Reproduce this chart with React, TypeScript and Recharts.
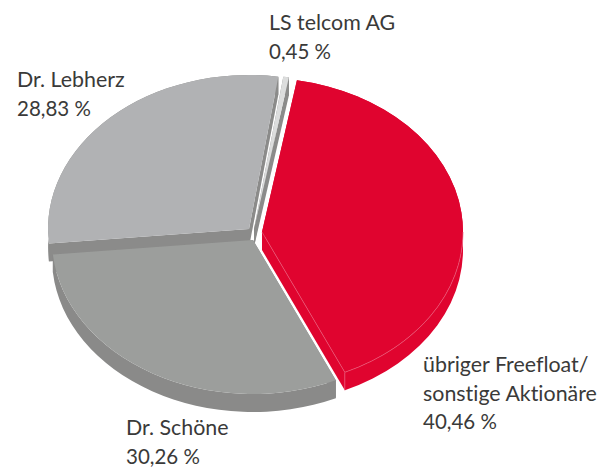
import { PieChart, Pie, Cell } from "recharts";

const names = ["Dr. Lebherz", "LS telcom AG", "übriger Freefloat/sonstige Aktionäre", "Dr. Schöne"];
const shares = [28.83, 0.45, 40.46, 30.26];
const shareLabels = ["28,83 %", "0,45 %", "40,46 %", "30,26 %"];
const labelLines = [["Dr. Lebherz"], ["LS telcom AG"], ["übriger Freefloat/", "sonstige Aktionäre"], ["Dr. Schöne"]];

const topColors = ["#b1b2b4", "#dcdddd", "#e0042f", "#9c9e9c"];
const sideColors = ["#8b8b8a", "#8b8b8a", "#e0042f", "#8a8a89"];

// each slice is pulled away from the middle by its own offset
const offsetX = [-13, -8, 0, -9];
const offsetY = [-3, -3, 0, 8];
const labelX = [17, 269, 423, 126];
const labelY = [87, 30, 372, 435];

const CX = 262;
const CY = 232;
const RX = 201;
const SQUASH = 154 / 201;
const DEPTH = 18;

const data = names.map((name, i) => ({ name, value: shares[i] }));

function SliceShape(props: any) {
  const { startAngle, endAngle, index } = props;
  const cx = props.cx + offsetX[index];
  const cy = props.cy + offsetY[index];
  const ry = RX * SQUASH;
  const pt = (deg: number, dy = 0) => {
    const a = (deg * Math.PI) / 180;
    return `${cx + RX * Math.cos(a)} ${cy + dy - ry * Math.sin(a)}`;
  };
  const large = Math.abs(endAngle - startAngle) > 180 ? 1 : 0;
  const top = `M${cx} ${cy}L${pt(startAngle)}A${RX} ${ry} 0 ${large} 1 ${pt(endAngle)}Z`;
  const rim = `M${pt(startAngle)}A${RX} ${ry} 0 ${large} 1 ${pt(endAngle)}L${pt(endAngle, DEPTH)}A${RX} ${ry} 0 ${large} 0 ${pt(startAngle, DEPTH)}Z`;
  const face = `M${cx} ${cy}L${pt(endAngle)}L${pt(endAngle, DEPTH)}L${cx} ${cy + DEPTH}Z`;
  const face2 = `M${cx} ${cy}L${pt(startAngle)}L${pt(startAngle, DEPTH)}L${cx} ${cy + DEPTH}Z`;
  const side = sideColors[index];
  return (
    <g>
      <path d={rim} fill={side} />
      <path d={face} fill={side} />
      <path d={face2} fill={side} />
      <path d={top} fill={topColors[index]} />
      {index === 2 && (
        <path
          d={`M${cx} ${cy}L${pt(endAngle)}L${pt(endAngle, DEPTH)}M${pt(endAngle)}A${RX} ${ry} 0 0 0 ${pt(0)}`}
          fill="none"
          stroke="#ea5675"
          strokeWidth={0.7}
        />
      )}
    </g>
  );
}

function SliceLabel({ index }: any) {
  const lines = labelLines[index];
  return (
    <text
      x={labelX[index]}
      y={labelY[index]}
      fontFamily="Lato"
      fontSize={21.4}
      fill="#3a3a39"
      style={{ fontVariantLigatures: "none" }}
    >
      {lines.map((line, i) => (
        <tspan key={line} x={labelX[index]} dy={i === 0 ? 0 : 28.7}>
          {line}
        </tspan>
      ))}
      <tspan x={labelX[index]} dy={28.5} fontSize={20.5}>
        {shareLabels[index]}
      </tspan>
    </text>
  );
}

export default function App() {
  return (
    <div style={{ position: "absolute", left: 0, top: 0, width: 613, height: 468 }}>
      <PieChart width={613} height={468} margin={{ top: 0, right: 0, bottom: 0, left: 0 }}>
        <Pie
          data={data}
          dataKey="value"
          nameKey="name"
          cx={CX}
          cy={CY}
          outerRadius={RX}
          startAngle={-174.6}
          endAngle={-534.6}
          stroke="none"
          shape={SliceShape}
          label={SliceLabel}
          labelLine={false}
          isAnimationActive={false}
        >
          {data.map((d, i) => (
            <Cell key={d.name} fill={topColors[i]} />
          ))}
        </Pie>
      </PieChart>
    </div>
  );
}
